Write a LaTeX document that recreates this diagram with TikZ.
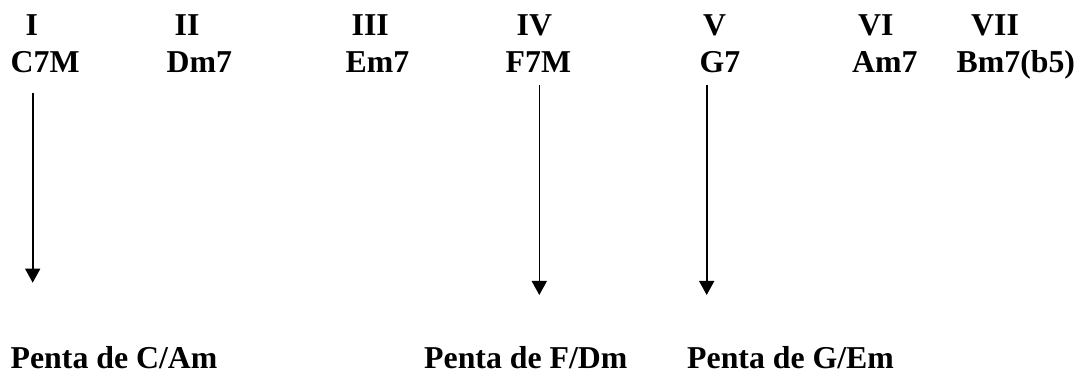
\documentclass[tikz,border=0pt]{standalone}
\usepackage{fontspec}
\setmainfont{Liberation Serif}
\usetikzlibrary{arrows.meta}
\begin{document}
\begin{tikzpicture}[x=1pt,y=-1pt,
  lbl/.style={inner sep=0pt,anchor=base west,font=\fontsize{31.8}{38}\selectfont\bfseries},
  down/.style={line width=1.6pt,-{Triangle[width=15pt,length=14pt]}}]
\useasboundingbox (0,0) rectangle (1080,371);
% scale degrees
\node[lbl] (n1) at (25.5,36) {I};
\node[lbl] (n2) at (174.5,36) {II};
\node[lbl] (n3) at (351.5,36) {III};
\node[lbl] (n4) at (516.5,36) {IV};
\node[lbl] (n5) at (703,36) {V};
\node[lbl] (n6) at (858,36) {VI};
\node[lbl] (n7) at (971,36) {VII};
% chords of the field
\node[lbl] (c1) at (10.5,73) {C7M};
\node[lbl] (c2) at (166.5,73) {Dm7};
\node[lbl] (c3) at (345.5,73) {Em7};
\node[lbl] (c4) at (505.5,73) {F7M};
\node[lbl] (c5) at (699.5,73) {G7};
\node[lbl] (c6) at (852,73) {Am7};
\node[lbl] (c7) at (956.5,73) {Bm7(b5)};
% pentatonic scales
\node[lbl] (p1) at (10.5,368.3) {Penta de C/Am};
\node[lbl] (p2) at (424,368.3) {Penta de F/Dm};
\node[lbl] (p3) at (687,368.3) {Penta de G/Em};
% arrows
\coordinate (a1s) at (32.7,92.7);
\coordinate (a1e) at (32.7,282.7);
\coordinate (a2s) at (539.3,85);
\coordinate (a2e) at (539.3,295);
\coordinate (a3s) at (706.7,85);
\coordinate (a3e) at (706.7,295);
\draw[down] (a1s) -- (a1e);
\draw[down] (a2s) -- (a2e);
\draw[down] (a3s) -- (a3e);
\end{tikzpicture}
\end{document}
